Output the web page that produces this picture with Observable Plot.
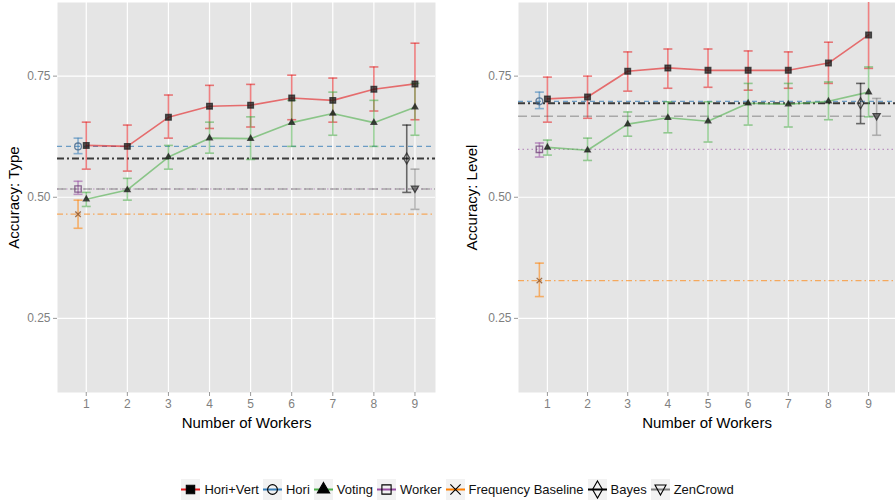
<!DOCTYPE html>
<html><head><meta charset="utf-8">
<script src="https://cdn.jsdelivr.net/npm/d3@7"></script>
<script src="https://cdn.jsdelivr.net/npm/@observablehq/plot@0.6"></script>
<style>
body{margin:0;background:#fff;font-family:"Liberation Sans",Arial,sans-serif;}
#wrap{position:relative;width:895px;height:500px;overflow:hidden;background:#fff;}
#left{position:absolute;left:0;top:0}
#right{position:absolute;left:448px;top:0}
#legend{position:absolute;left:12px;top:479px;width:895px;display:flex;justify-content:center;align-items:center;font-size:13px;color:#111;}
#legend .item{display:flex;align-items:center;margin-right:4px;}
#legend svg{margin-right:4px;}
</style></head><body>
<div id="wrap"><div id="left"></div><div id="right"></div><div id="legend"></div></div>
<script>
// ---------- data ----------
const workers = [1, 2, 3, 4, 5, 6, 7, 8, 9];
const yTicks = [0.25, 0.5, 0.75];

// Accuracy: Type
const typeHoriVert   = [0.607, 0.605, 0.665, 0.688, 0.690, 0.705, 0.700, 0.723, 0.734];
const typeHoriVertLo = [0.558, 0.554, 0.622, 0.642, 0.645, 0.660, 0.655, 0.678, 0.660];
const typeHoriVertHi = [0.655, 0.649, 0.711, 0.731, 0.733, 0.752, 0.746, 0.769, 0.818];
const typeVoting     = [0.496, 0.515, 0.583, 0.622, 0.621, 0.654, 0.673, 0.654, 0.686];
const typeVotingLo   = [0.481, 0.494, 0.558, 0.591, 0.578, 0.605, 0.628, 0.605, 0.628];
const typeVotingHi   = [0.510, 0.539, 0.607, 0.655, 0.666, 0.700, 0.717, 0.700, 0.735];

// Accuracy: Level
const levelHoriVert   = [0.703, 0.707, 0.760, 0.767, 0.762, 0.762, 0.762, 0.777, 0.835];
const levelHoriVertLo = [0.655, 0.663, 0.719, 0.725, 0.727, 0.721, 0.725, 0.735, 0.766];
const levelHoriVertHi = [0.748, 0.750, 0.800, 0.806, 0.806, 0.802, 0.800, 0.820, 0.905];
const levelVoting     = [0.603, 0.597, 0.651, 0.664, 0.657, 0.694, 0.692, 0.698, 0.717];
const levelVotingLo   = [0.587, 0.576, 0.626, 0.633, 0.614, 0.649, 0.645, 0.660, 0.666];
const levelVotingHi   = [0.618, 0.622, 0.676, 0.697, 0.697, 0.735, 0.735, 0.738, 0.769];

// single-value methods (drawn as a point with error bar plus a horizontal reference line)
const refMethods = ["Hori", "Worker", "Frequency Baseline", "Bayes", "ZenCrowd"];
const typeRefX     = [0.8, 0.8, 0.8, 8.8, 9.0];
const typeRefValue = [0.605, 0.517, 0.465, 0.580, 0.517];
const typeRefLo    = [0.590, 0.506, 0.436, 0.510, 0.475];
const typeRefHi    = [0.622, 0.533, 0.494, 0.649, 0.558];
const levelRefX     = [0.8, 0.8, 0.8, 8.8, 9.2];
const levelRefValue = [0.698, 0.599, 0.328, 0.694, 0.667];
const levelRefLo    = [0.683, 0.583, 0.295, 0.652, 0.628];
const levelRefHi    = [0.717, 0.612, 0.364, 0.735, 0.704];

const legendMethods = ["Hori+Vert", "Hori", "Voting", "Worker", "Frequency Baseline", "Bayes", "ZenCrowd"];
const legendColors  = ["#e41a1c", "#377eb8", "#4daf4a", "#984ea3", "#ff7f00", "#000000", "#7f7f7f"];

// ---------- styles ----------
const colorOf = Object.fromEntries(legendMethods.map((m, i) => [m, legendColors[i]]));
const dashOf = {"Hori": "5,4", "Worker": "1.5,3", "Frequency Baseline": "6,3,1.5,3", "Bayes": "7,3,2,3", "ZenCrowd": "9,4"};
const hlineWidth = {"Hori": 1.2, "Worker": 1.2, "Frequency Baseline": 1.2, "Bayes": 2.2, "ZenCrowd": 1.5};
const hlineOpacity = {"Hori": 0.7, "Worker": 0.55, "Frequency Baseline": 0.6, "Bayes": 0.75, "ZenCrowd": 0.6};
const downTri = {draw(ctx) { ctx.moveTo(0, 3.5); ctx.lineTo(3.6, -2.8); ctx.lineTo(-3.6, -2.8); ctx.closePath(); }};
const capSym = {draw(ctx) { ctx.moveTo(-4.5, 0); ctx.lineTo(4.5, 0); }};
const symbolOf = {"Hori+Vert": "square", "Hori": "circle", "Voting": "triangle", "Worker": "square",
  "Frequency Baseline": "times", "Bayes": "diamond", "ZenCrowd": downTri};
const sizeOf = {"Hori+Vert": 3.2, "Hori": 3.4, "Voting": 2.1, "Worker": 3.6, "Frequency Baseline": 2.6, "Bayes": 3.3, "ZenCrowd": 3};
const filledOf = {"Hori+Vert": true, "Voting": true, "ZenCrowd": true};
const pointStroke = {"Hori": "#3b5f86", "Worker": "#6a3a73", "Frequency Baseline": "#8a4a1a"};

function rows(method, xs, v, lo, hi) {
  return xs.map((x, i) => ({method, x, y: v[i], lo: lo[i], hi: hi[i]}));
}

function panel({xDomain, width, marginLeft, marginRight, yLabel, yLabelOffset, hv, voting, ref}) {
  const refRows = refMethods.map((m, i) => ({method: m, x: ref.x[i], y: ref.v[i], lo: ref.lo[i], hi: ref.hi[i]}));
  const series = [hv, voting];
  const marks = [
    Plot.frame({fill: "#e5e5e5"}),
    Plot.gridX(workers, {stroke: "#fff", strokeOpacity: 1, strokeWidth: 1.2}),
    Plot.gridY(yTicks, {stroke: "#fff", strokeOpacity: 1, strokeWidth: 1.2}),
    Plot.axisX(workers, {tickSize: 4, tickPadding: 3, stroke: "#9a9a9a", fill: "#7f7f7f", fontSize: 12, label: null}),
    Plot.axisX([], {label: "Number of Workers", labelAnchor: "center", labelOffset: 35, labelArrow: "none", fill: "#000", fontSize: 15, tickSize: 0}),
    Plot.axisY(yTicks, {tickSize: 4, tickPadding: 3, stroke: "#9a9a9a", fill: "#7f7f7f", fontSize: 12, tickFormat: ".2f", label: null}),
    Plot.axisY([], {label: yLabel, labelAnchor: "center", labelOffset: yLabelOffset, labelArrow: "none", fill: "#000", fontSize: 15, tickSize: 0})
  ];
  // horizontal reference lines
  for (const r of refRows) {
    marks.push(Plot.ruleY([r], {y: "y", stroke: colorOf[r.method], strokeWidth: hlineWidth[r.method],
      strokeOpacity: hlineOpacity[r.method], strokeDasharray: dashOf[r.method]}));
  }
  // series lines
  for (const s of series) {
    const m = s[0].method;
    marks.push(Plot.line(s, {x: "x", y: "y", stroke: colorOf[m], strokeOpacity: 0.6, strokeWidth: 1.6}));
  }
  // error bars
  const all = [...series.flat(), ...refRows];
  for (const m of legendMethods) {
    const d = all.filter(r => r.method === m);
    const c = colorOf[m];
    const op = 0.55;
    marks.push(Plot.ruleX(d, {x: "x", y1: "lo", y2: "hi", stroke: c, strokeOpacity: op, strokeWidth: 1.6, clip: true}));
    marks.push(Plot.dot(d, {x: "x", y: "hi", symbol: capSym, stroke: c, strokeOpacity: op, strokeWidth: 1.6, clip: true}));
    marks.push(Plot.dot(d, {x: "x", y: "lo", symbol: capSym, stroke: c, strokeOpacity: op, strokeWidth: 1.6, clip: true}));
  }
  // points
  for (const m of legendMethods) {
    const d = all.filter(r => r.method === m);
    const filled = filledOf[m];
    marks.push(Plot.dot(d, {x: "x", y: "y", symbol: symbolOf[m], r: sizeOf[m],
      fill: filled ? (m === "ZenCrowd" ? "#555" : "#111") : "none", fillOpacity: 0.7,
      stroke: pointStroke[m] || "#222", strokeOpacity: 0.75, strokeWidth: 1.3}));
  }
  return Plot.plot({
    width, height: 432, marginLeft, marginRight, marginTop: 2, marginBottom: 40,
    style: {fontFamily: "'Liberation Sans', Arial, sans-serif", background: "transparent"},
    x: {domain: xDomain, label: null, axis: null},
    y: {domain: [0.097, 0.902], label: null, axis: null},
    marks
  });
}

const typeHV = rows("Hori+Vert", workers, typeHoriVert, typeHoriVertLo, typeHoriVertHi);
const typeVo = rows("Voting", workers, typeVoting, typeVotingLo, typeVotingHi);
const levelHV = rows("Hori+Vert", workers, levelHoriVert, levelHoriVertLo, levelHoriVertHi);
const levelVo = rows("Voting", workers, levelVoting, levelVotingLo, levelVotingHi);

document.getElementById("left").append(panel({
  xDomain: [0.3, 9.5], width: 440, marginLeft: 57, marginRight: 5,
  yLabel: "Accuracy: Type", yLabelOffset: 49, hv: typeHV, voting: typeVo,
  ref: {x: typeRefX, v: typeRefValue, lo: typeRefLo, hi: typeRefHi}
}));
document.getElementById("right").append(panel({
  xDomain: [0.28, 9.67], width: 447, marginLeft: 70, marginRight: 0,
  yLabel: "Accuracy: Level", yLabelOffset: 52, hv: levelHV, voting: levelVo,
  ref: {x: levelRefX, v: levelRefValue, lo: levelRefLo, hi: levelRefHi}
}));

// ---------- legend ----------
const legendSymbols = {"Hori+Vert": d3.symbolSquare, "Hori": d3.symbolCircle, "Voting": d3.symbolTriangle,
  "Worker": d3.symbolSquare, "Frequency Baseline": d3.symbolTimes, "Bayes": d3.symbolDiamond};
const legendSizes = {"Hori+Vert": 70, "Hori": 75, "Voting": 65, "Worker": 85, "Frequency Baseline": 70, "Bayes": 85};
const legend = d3.select("#legend");
legendMethods.forEach((m, i) => {
  const item = legend.append("div").attr("class", "item");
  const svg = item.append("svg").attr("width", 19).attr("height", 21);
  svg.append("rect").attr("width", 19).attr("height", 21).attr("fill", "#f2f2f2");
  svg.append("line").attr("x1", 0).attr("x2", 19).attr("y1", 10.5).attr("y2", 10.5)
    .attr("stroke", legendColors[i]).attr("stroke-width", 2);
  const g = svg.append("g").attr("transform", "translate(9.5,10.5)");
  const filled = m === "Hori+Vert" || m === "Voting";
  let path;
  if (m === "ZenCrowd") path = "M0,5.5L5.5,-4.5L-5.5,-4.5Z";
  else path = d3.symbol(legendSymbols[m], legendSizes[m])();
  g.append("path").attr("d", path)
    .attr("fill", filled ? "#000" : "none").attr("stroke", "#000").attr("stroke-width", 1.1);
  item.append("span").text(m);
});
</script>
</body></html>
